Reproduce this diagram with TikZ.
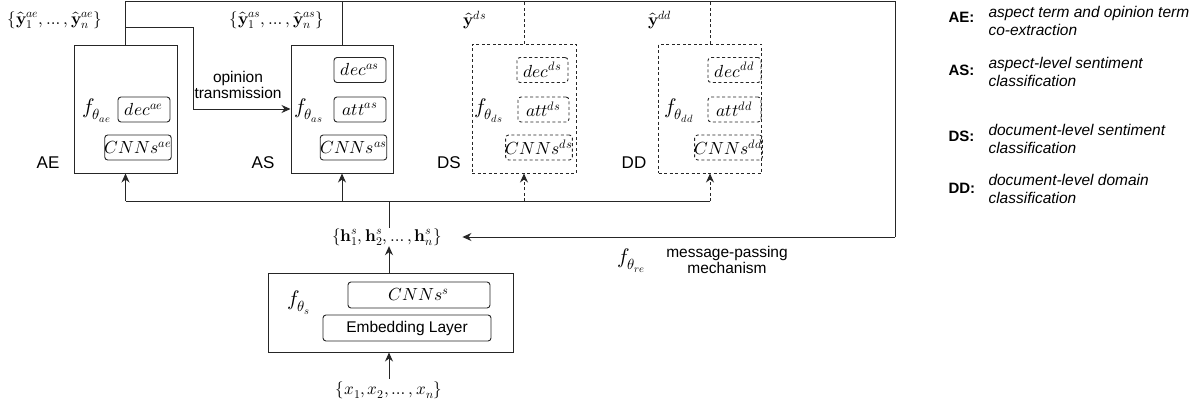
\documentclass[tikz,border=0pt]{standalone}
\usepackage{unicode-math}
\setmainfont{Liberation Sans}
\setmathfont{Latin Modern Math}
\usetikzlibrary{arrows.meta,calc}
\begin{document}
\begin{tikzpicture}[x=1pt,y=-1pt,line width=1pt]
\tikzset{
  obox/.style={draw=black!85, line width=1pt, inner sep=0pt},
  ibox/.style={draw=black!85, rounded corners=3pt, line width=0.9pt, inner sep=0pt, minimum height=25pt, font=\fontsize{17.5}{20}\selectfont},
  dsh/.style={dash pattern=on 3pt off 2.5pt},
  arr/.style={-{Stealth[length=9pt,width=8pt]}, line width=1pt, draw=black!85},
  wire/.style={line width=1pt, draw=black!85},
  lbl/.style={font=\fontsize{17}{20}\selectfont, inner sep=0pt},
  txt/.style={font=\fontsize{15.5}{16.5}\selectfont, align=center, inner sep=0pt},
  mth/.style={font=\fontsize{17}{20}\selectfont, inner sep=0pt},
  fth/.style={font=\fontsize{21}{24}\selectfont, inner sep=0pt},
  keyl/.style={font=\bfseries\fontsize{15}{18}\selectfont, inner sep=0pt, anchor=west},
  keyt/.style={font=\itshape\fontsize{15.5}{18}\selectfont, align=left, inner sep=0pt, anchor=west},
}
\useasboundingbox[fill=white] (0,0) rectangle (1203,407);

% AE
\node[obox, minimum width=103pt, minimum height=128pt] (ae) at (125.5,109) {};
\node[ibox, minimum width=52pt] (decae) at (144,109.5) {$dec^{ae}$};
\node[ibox, minimum width=64pt] (cnnae) at (138,147.5) {$CNNs^{ae}$};
\node[fth] (fae) at (97,111) {$f_{\theta_{ae}}$};
\node[lbl] (lae) at (48,163) {AE};
\node[mth] (yae) at (55,20) {$\{\hat{\symbf{y}}^{ae}_1,\ldots,\hat{\symbf{y}}^{ae}_n\}$};

% AS
\node[obox, minimum width=102pt, minimum height=128pt] (as) at (342,109) {};
\node[ibox, minimum width=52pt] (decas) at (360,70) {$dec^{as}$};
\node[ibox, minimum width=52pt] (attas) at (360,109.5) {$att^{as}$};
\node[ibox, minimum width=65pt] (cnnas) at (353.5,147.5) {$CNNs^{as}$};
\node[fth] (fas) at (309,111) {$f_{\theta_{as}}$};
\node[lbl] (las) at (263,163) {AS};
\node[mth] (yas) at (277,20) {$\{\hat{\symbf{y}}^{as}_1,\ldots,\hat{\symbf{y}}^{as}_n\}$};

% DS
\node[obox, dsh, minimum width=104pt, minimum height=129pt] (ds) at (524,108.5) {};
\node[ibox, dsh, minimum width=51pt] (decds) at (542.5,70) {$dec^{ds}$};
\node[ibox, dsh, minimum width=51pt] (attds) at (543.5,109.5) {$att^{ds}$};
\node[ibox, dsh, minimum width=66pt] (cnnds) at (539,147.5) {$CNNs^{ds}$};
\node[fth] (fds) at (489,111) {$f_{\theta_{ds}}$};
\node[lbl] (lds) at (449,163) {DS};
\node[mth] (yds) at (475,20) {$\hat{\symbf{y}}^{ds}$};

% DD
\node[obox, dsh, minimum width=103pt, minimum height=129pt] (dd) at (710,108.5) {};
\node[ibox, dsh, minimum width=53pt] (decdd) at (734.5,70) {$dec^{dd}$};
\node[ibox, dsh, minimum width=53pt] (attdd) at (734.5,109.5) {$att^{dd}$};
\node[ibox, dsh, minimum width=65pt] (cnndd) at (728.5,147.5) {$CNNs^{dd}$};
\node[fth] (fdd) at (679,111) {$f_{\theta_{dd}}$};
\node[lbl] (ldd) at (634,163) {DD};
\node[mth] (ydd) at (660,20) {$\hat{\symbf{y}}^{dd}$};

% shared
\node[mth] (hs) at (387,237) {$\{\symbf{h}^s_1,\symbf{h}^s_2,\ldots,\symbf{h}^s_n\}$};
\node[obox, minimum width=245pt, minimum height=79pt] (fs) at (390.5,312.5) {};
\node[ibox, minimum width=142pt, minimum height=26pt] (cnns) at (419,295) {$CNNs^s$};
\node[ibox, minimum width=168pt, minimum height=26pt, txt] (emb) at (407,328) {Embedding Layer};
\node[fth] (ffs) at (299,303) {$f_{\theta_s}$};
\node[mth] (xs) at (389,390) {$\{x_1,x_2,\ldots,x_n\}$};

% message passing
\node[txt] (mp) at (727,260) {message-passing\\mechanism};
\node[fth] (fre) at (631,261) {$f_{\theta_{re}}$};
\node[txt] (ot) at (238,85) {opinion\\transmission};

% coordinates
\coordinate (tr) at (895,1.5);
\coordinate (br) at (895,237);
\coordinate (bus) at (389,201);
\coordinate (otc) at (193,27);

% top feedback loop
\draw[wire] (ae.north) -- (ae.north |- tr) -- (tr) -- (br);
\draw[arr] (br) -- ($(hs.east)+(20,0)$);
\draw[wire] (as.north) -- (as.north |- tr);
\draw[wire, dsh] (ds.north) -- (ds.north |- tr);
\draw[wire, dsh] (dd.north) -- (dd.north |- tr);

% opinion transmission
\draw[arr] (ae.north |- otc) -- (otc) |- (as.west);

% bus
\draw[wire] (ae.south |- bus) -- (dd.south |- bus);
\draw[wire] (hs.north -| bus) -- (bus);
\draw[arr] (ae.south |- bus) -- (ae.south);
\draw[arr] (as.south |- bus) -- (as.south);
\draw[arr, dsh] (ds.south |- bus) -- (ds.south);
\draw[arr, dsh] (dd.south |- bus) -- (dd.south);

% shared encoder
\draw[arr] (fs.north -| bus) -- (hs.south -| bus);
\draw[arr] ($(xs.north -| bus)+(0,-2)$) -- (fs.south -| bus);

% legend
\node[keyl] (kae) at (948,17) {AE:};
\node[keyt] (tae) at (988,21) {aspect term and opinion term\\co-extraction};
\node[keyl] (kas) at (948,70) {AS:};
\node[keyt] (tas) at (988,72) {aspect-level sentiment\\classification};
\node[keyl] (kds) at (948,136) {DS:};
\node[keyt] (tds) at (988,138.5) {document-level sentiment\\classification};
\node[keyl] (kdd) at (948,188) {DD:};
\node[keyt] (tdd) at (988,189) {document-level domain\\classification};
\end{tikzpicture}
\end{document}
